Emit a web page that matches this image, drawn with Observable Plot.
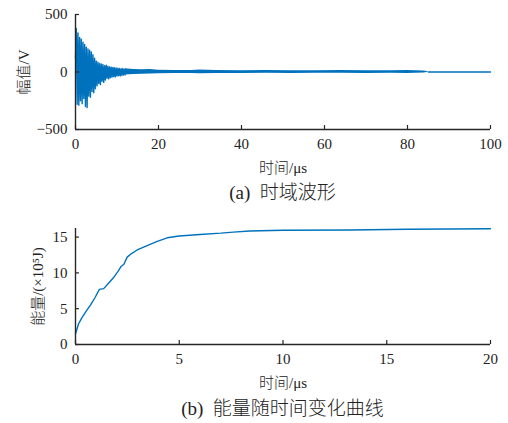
<!DOCTYPE html>
<html><head><meta charset="utf-8">
<script src="https://cdn.jsdelivr.net/npm/d3@7"></script>
<script src="https://cdn.jsdelivr.net/npm/@observablehq/plot@0.6"></script>
<style>
body{margin:0;background:#fff;width:508px;height:423px;position:relative;overflow:hidden}
.panel{position:absolute;left:0}
.cap{position:absolute;left:75px;width:415px;text-align:center;font-family:"Liberation Serif","Noto Sans CJK SC";font-size:19px;font-weight:300;color:#222;white-space:pre;line-height:22px}
svg text{font-weight:300}
</style></head><body>
<div id="a" class="panel" style="top:0"></div>
<div class="cap" style="top:182px">(a)  时域波形</div>
<div id="b" class="panel" style="top:210px"></div>
<div class="cap" style="top:398px">(b)  能量随时间变化曲线</div>
<script>
// ---- (a) waveform: oscillation (µs, V)
const waveT = [0,0.2,0.4,0.6,0.8,1.0,1.2,1.4,1.6,1.8,2.0,2.2,2.4,2.6,2.8,3.0,3.2,3.4,3.6,3.8,4.0,4.2,4.4,4.6,4.8,5.0,5.2,5.4,5.6,5.8,6.0,6.2,6.4,6.6,6.8,7.0,7.2,7.4,7.6,7.8,8.0,8.2,8.4,8.6,8.8,9.0,9.2,9.4,9.6,9.8,10.0,10.2,10.4,10.6,10.8,11.0,11.2,11.4,11.6,11.8,12.0];
const waveV = [120,378,-280,340,-290,300,-250,285,-275,260,-230,240,-300,215,-310,200,-210,190,-220,175,-170,150,-180,120,-145,95,-120,85,-100,75,-110,70,-80,65,-90,55,-70,60,-55,50,-60,45,-50,42,-45,40,-40,38,-42,35,-35,33,-32,30,-34,28,-30,30,-26,25,-25];
// low-level noise band after 12 µs (upper / lower envelope)
const bandT  = [12,14,16,18,20,24,28,30,34,40,46,52,58,64,70,76,80,82,84,85];
const bandHi = [28,22,20,22,16,13,12,18,12,11,12,10,11,12,11,10,14,10,8,3];
const bandLo = [-26,-22,-20,-18,-16,-14,-13,-16,-12,-12,-11,-12,-10,-11,-12,-10,-12,-10,-8,-3];
const tailT = [85,100];
const tailV = [0,0];
const xTicksA = [0,20,40,60,80,100];
const yTicksA = [-500,0,500];

// ---- (b) energy vs time (µs, ×10^5 J)
const eT = [0,0.15,0.32,0.5,0.72,0.95,1.15,1.36,1.6,1.85,2.05,2.2,2.33,2.49,2.7,2.97,3.2,3.45,3.94,4.42,5.0,6.0,7.0,7.6,8.4,10,13.25,16,20];
const eV = [1.5,2.9,3.8,4.6,5.5,6.6,7.7,7.8,8.6,9.4,10.2,10.9,11.2,12.2,12.7,13.2,13.5,13.8,14.4,14.9,15.15,15.37,15.55,15.7,15.85,15.95,16.0,16.1,16.17];
const xTicksB = [0,5,10,15,20];
const yTicksB = [0,5,10,15];

const blue = "#0072BD";
const axisColor = "#262626";
const font = "'Liberation Serif','Noto Sans CJK SC',serif";

const wave = waveT.map((t,i)=>({t, v: waveV[i]}));
const band = bandT.map((t,i)=>({t, hi: bandHi[i], lo: bandLo[i]}));
const tail = tailT.map((t,i)=>({t, v: tailV[i]}));
const energy = eT.map((t,i)=>({t, v: eV[i]}));

const W = 508, ML = 75, MR = 18;
const innerW = W - ML - MR;

// panel a
{
  const H = 180, MT = 14, MB = 51, innerH = H - MT - MB;
  const p = Plot.plot({
    width: W, height: H, marginLeft: ML, marginRight: MR, marginTop: MT, marginBottom: MB,
    style: {fontFamily: font, fontSize: "15px", color: "#222", background: "transparent", overflow: "visible"},
    x: {domain: [0,100]},
    y: {domain: [-500,500]},
    marks: [
      Plot.areaY(band, {x: "t", y1: "lo", y2: "hi", fill: blue, curve: "linear"}),
      Plot.line(wave, {x: "t", y: "v", stroke: blue, strokeWidth: 1.4}),
      Plot.line(tail, {x: "t", y: "v", stroke: blue, strokeWidth: 1.3}),
      Plot.ruleX(xTicksA, {x: d=>d, insetTop: innerH - 4, stroke: axisColor, strokeWidth: 1.2}),
      Plot.ruleY(yTicksA, {y: d=>d, insetRight: innerW - 4, stroke: axisColor, strokeWidth: 1.2}),
      Plot.ruleX([0], {stroke: axisColor, strokeWidth: 1.4}),
      Plot.ruleY([-500], {stroke: axisColor, strokeWidth: 1.4}),
      Plot.axisX(xTicksA, {tickSize: 0, tickPadding: 9, label: "时间/μs", labelAnchor: "center", labelOffset: 43, labelArrow: "none", fontSize: 15}),
      Plot.axisY(yTicksA, {tickSize: 0, tickPadding: 8, label: "幅值/V", labelAnchor: "center", labelOffset: 57, labelArrow: "none", fontSize: 15})
    ]
  });
  document.getElementById("a").appendChild(p);
}
// panel b
{
  const H = 185, MT = 18, MB = 51, innerH = H - MT - MB;
  const p = Plot.plot({
    width: W, height: H, marginLeft: ML, marginRight: MR, marginTop: MT, marginBottom: MB,
    style: {fontFamily: font, fontSize: "15px", color: "#222", background: "transparent", overflow: "visible"},
    x: {domain: [0,20]},
    y: {domain: [0,16.2]},
    marks: [
      Plot.line(energy, {x: "t", y: "v", stroke: blue, strokeWidth: 1.4}),
      Plot.ruleX(xTicksB, {x: d=>d, insetTop: innerH - 4, stroke: axisColor, strokeWidth: 1.2}),
      Plot.ruleY(yTicksB, {y: d=>d, insetRight: innerW - 4, stroke: axisColor, strokeWidth: 1.2}),
      Plot.ruleX([0], {stroke: axisColor, strokeWidth: 1.4}),
      Plot.ruleY([0], {stroke: axisColor, strokeWidth: 1.4}),
      Plot.axisX(xTicksB, {tickSize: 0, tickPadding: 9, label: "时间/μs", labelAnchor: "center", labelOffset: 43, labelArrow: "none", fontSize: 15}),
      Plot.axisY(yTicksB, {tickSize: 0, tickPadding: 8, label: "能量/(×10⁵J)", labelAnchor: "center", labelOffset: 43, labelArrow: "none", fontSize: 15})
    ]
  });
  document.getElementById("b").appendChild(p);
}
</script>
</body></html>
